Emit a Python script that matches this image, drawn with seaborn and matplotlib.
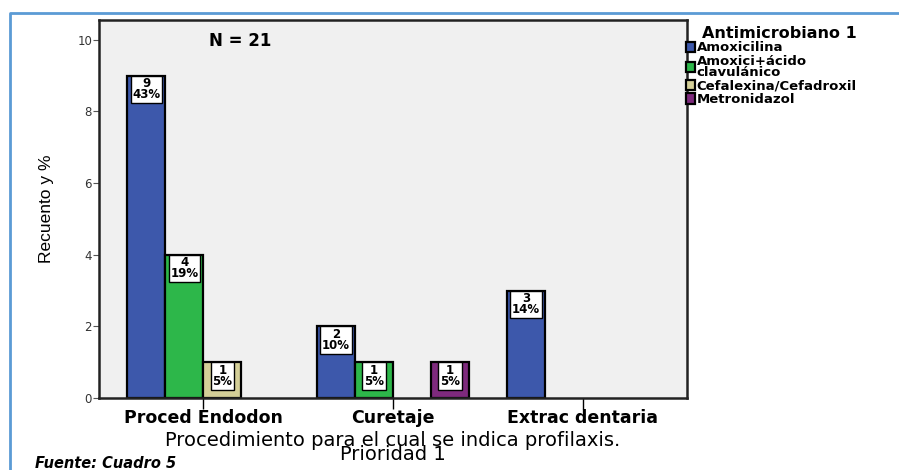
import matplotlib
matplotlib.use("Agg")
import matplotlib.pyplot as plt
import seaborn as sns
import pandas as pd
from matplotlib.lines import Line2D

procedures = ["Proced Endodon", "Curetaje", "Extrac dentaria"]
antimicrobials = ["Amoxicilina", "Amoxici+ácido\nclavulánico", "Cefalexina/Cefadroxil", "Metronidazol"]
colors = ["#3D58AB", "#2DB74A", "#D4CF98", "#7E2A7D"]

bar_procedure = ["Proced Endodon", "Proced Endodon", "Proced Endodon",
                 "Curetaje", "Curetaje", "Curetaje", "Extrac dentaria"]
bar_antimicrobial = [antimicrobials[0], antimicrobials[1], antimicrobials[2],
                     antimicrobials[0], antimicrobials[1], antimicrobials[3],
                     antimicrobials[0]]
counts = [9, 4, 1, 2, 1, 1, 3]
percents = [43, 19, 5, 10, 5, 5, 14]
y_ticks = [0, 2, 4, 6, 8, 10]

df = pd.DataFrame({"proc": bar_procedure, "anti": bar_antimicrobial,
                   "n": counts, "pct": percents})

sns.set_theme(style="white")
plt.rcParams["font.family"] = ["DejaVu Sans"]
plt.rcParams["text.color"] = "black"
plt.rcParams["axes.labelcolor"] = "black"

fig = plt.figure(figsize=(8.99, 4.70), dpi=100)
ax = fig.add_axes([99/899, 1-398/470, (687-99)/899, (398-20)/470])
ax.set_facecolor("#F0F0F0")

sns.barplot(data=df, x="proc", y="n", hue="anti", order=procedures,
            hue_order=antimicrobials, palette=colors, width=0.8,
            edgecolor="black", linewidth=1.6, ax=ax, legend=True,
            saturation=1, errorbar=None)

# value labels
for i, cont in enumerate(ax.containers):
    sub = df[df["anti"] == antimicrobials[i]].set_index("proc")
    present = [p for p in procedures if p in sub.index]
    for bar, p in zip(cont, present):
        h = bar.get_height()
        if h <= 0:
            continue
        xc = bar.get_x() + bar.get_width()/2
        ax.text(xc, h - 0.05, f"{sub.loc[p, 'n']}\n{sub.loc[p, 'pct']}%",
                ha="center", va="top", fontsize=8.5, fontweight="bold",
                linespacing=0.8, color="black",
                bbox=dict(boxstyle="square,pad=0.15", fc="white", ec="black", lw=1.0))

ax.set_xlim(-0.55, 2.55)
ax.set_ylim(0, 10.55)
ax.set_yticks(y_ticks)
ax.set_yticklabels([str(t) for t in y_ticks], fontsize=8.5, color="#333333")
ax.tick_params(axis="y", direction="out", length=4, width=0.8, color="#555555", pad=1, left=True)
ax.tick_params(axis="x", direction="out", length=8, width=1, color="black", pad=0, bottom=True)
for lab in ax.get_xticklabels():
    lab.set_fontsize(12.5)
    lab.set_fontweight("bold")
    lab.set_color("black")
for sp in ax.spines.values():
    sp.set_color("#222222")
    sp.set_linewidth(1.8)

ax.set_ylabel("Recuento y %", fontsize=12.5,
              family=["Liberation Sans", "DejaVu Sans"],
              labelpad=17)
ax.set_xlabel("Procedimiento para el cual se indica profilaxis.\nPrioridad 1",
              fontsize=14, linespacing=0.62, labelpad=3)

ax.text(0.24, 0.945, "N = 21", transform=ax.transAxes, fontsize=12,
        fontweight="bold", ha="center", va="center")

handles, labels = ax.get_legend_handles_labels()
ax.legend_.remove()
leg = fig.legend(handles, labels, title="Antimicrobiano 1",
                 loc="upper left", bbox_to_anchor=(683/899, 1-23/470),
                 frameon=False, title_fontsize=11.5,
                 handlelength=0.7, handleheight=0.8, handletextpad=0.15,
                 labelspacing=0.05, borderaxespad=0, borderpad=0.2,
                 prop={"weight": "bold", "size": 9.5})
leg.get_title().set_fontweight("bold")
leg._legend_box.align = "right"
for t in leg.get_texts():
    t.set_linespacing(0.78)

fig.text(35/899, 1-463/470, "Fuente: Cuadro 5", fontsize=10.5,
         fontweight="bold", fontstyle="italic", ha="left", va="center")

# blue frame
fig.add_artist(Line2D([10/899, 10/899, 1.0], [0, 1-13/470, 1-13/470],
                      transform=fig.transFigure, color="#5B9BD5", lw=2))

fig.savefig("out.png", dpi=100)
